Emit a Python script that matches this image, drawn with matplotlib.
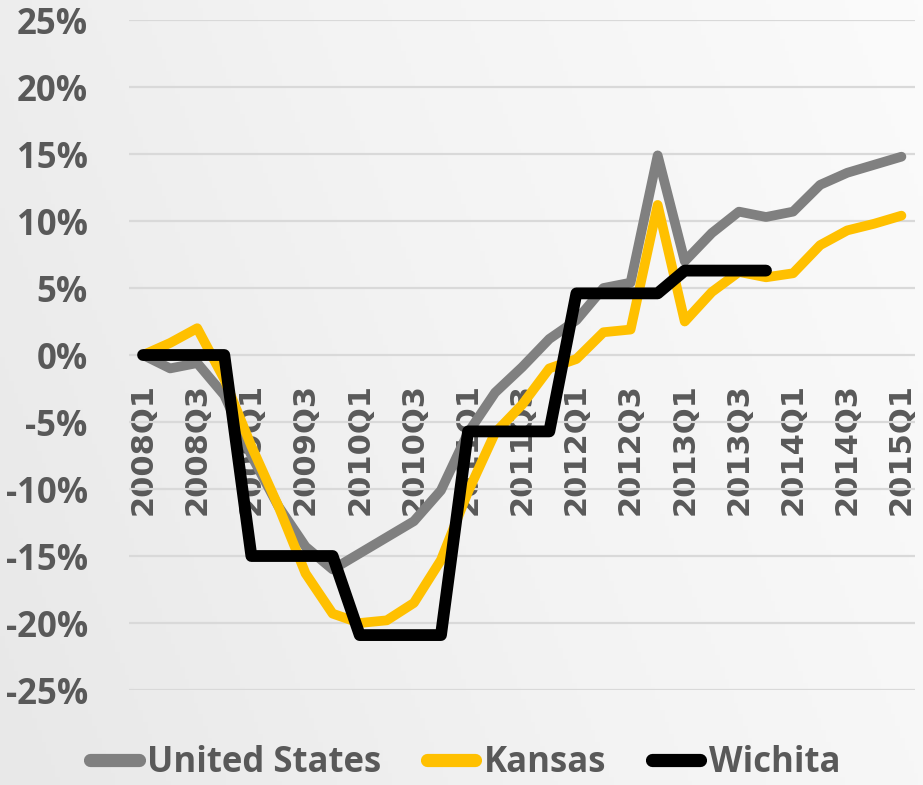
import numpy as np
import matplotlib.pyplot as plt
from matplotlib.colors import LinearSegmentedColormap

# quarters on the x axis
quarters = ['2008Q1', '2008Q2', '2008Q3', '2008Q4', '2009Q1', '2009Q2', '2009Q3', '2009Q4',
            '2010Q1', '2010Q2', '2010Q3', '2010Q4', '2011Q1', '2011Q2', '2011Q3', '2011Q4',
            '2012Q1', '2012Q2', '2012Q3', '2012Q4', '2013Q1', '2013Q2', '2013Q3', '2013Q4',
            '2014Q1', '2014Q2', '2014Q3', '2014Q4', '2015Q1']

# percent change
united_states = [0.0, -1.0, -0.6, -3.0, -7.5, -11.3, -14.3, -16.0, -14.8, -13.6, -12.4, -10.1,
                 -5.8, -2.8, -0.9, 1.2, 2.6, 5.0, 5.4, 14.9, 7.0, 9.1, 10.7, 10.3,
                 10.7, 12.7, 13.6, 14.2, 14.8]
kansas = [0.0, 0.9, 2.0, -1.8, -6.8, -11.3, -16.3, -19.3, -20.0, -19.8, -18.5, -15.3,
          -10.2, -5.8, -3.7, -1.0, -0.3, 1.7, 1.9, 11.2, 2.5, 4.7, 6.2, 5.8,
          6.1, 8.2, 9.3, 9.8, 10.4]
wichita = [0.0, 0.0, 0.0, 0.0, -15.0, -15.0, -15.0, -15.0, -20.9, -20.9, -20.9, -20.9,
           -5.7, -5.7, -5.7, -5.7, 4.6, 4.6, 4.6, 4.6, 6.3, 6.3, 6.3, 6.3,
           np.nan, np.nan, np.nan, np.nan, np.nan]

yticks = [-25, -20, -15, -10, -5, 0, 5, 10, 15, 20, 25]
ylabels = ['-25%', '-20%', '-15%', '-10%', '-5%', '0%', '5%', '10%', '15%', '20%', '25%']

txt = '#595959'
fig = plt.figure(figsize=(9.23, 7.85), dpi=100)

# light gray background gradient
bg = fig.add_axes([0, 0, 1, 1], zorder=-1)
gx, gy = np.meshgrid(np.linspace(0, 1, 200), np.linspace(0, 1, 200))
cmap = LinearSegmentedColormap.from_list('bg', ['#e8e8e8', '#f3f3f3', '#fbfbfb'])
bg.imshow(0.75 * gx + 0.25 * gy, cmap=cmap, aspect='auto', extent=[0, 1, 0, 1], origin='lower')
bg.axis('off')

ax = fig.add_axes([0.1403, 0.121, 0.851, 0.8535])
ax.set_facecolor('none')
for s in ax.spines.values():
    s.set_visible(False)
# x labels sit on the 0% line (set before ticks, this resets them)
ax.spines['bottom'].set_position(('data', 0))

x = np.arange(len(quarters))
ax.plot(x, united_states, color='#808080', lw=7, solid_capstyle='round', label='United States', zorder=3)
ax.plot(x, kansas, color='#FFC000', lw=7, solid_capstyle='round', label='Kansas', zorder=4)
ax.plot(x, wichita, color='#000000', lw=8.5, solid_capstyle='round', label='Wichita', zorder=5)

ax.set_xlim(-0.5, len(quarters) - 0.5)
ax.set_ylim(-25, 25)
ax.set_yticks(yticks)
ax.set_yticklabels(ylabels, fontfamily='Open Sans', fontweight='bold', fontsize=25)
ax.set_xticks(x[::2])
ax.set_xticklabels(quarters[::2], rotation=90, fontfamily='DejaVu Sans', fontweight='bold', fontsize=22)

ax.grid(axis='y', color='#d9d9d9', lw=1.6, zorder=0)
ax.set_axisbelow(True)

ax.tick_params(axis='y', length=0, pad=30, colors=txt)
ax.tick_params(axis='x', length=0, pad=20, colors=txt)

leg = fig.legend(loc='center', bbox_to_anchor=(0.504, 0.028), ncol=3, frameon=False,
                 handlelength=1.4, handletextpad=0.25, columnspacing=1.3,
                 prop={'family': 'Open Sans', 'weight': 'bold', 'size': 25})
for t in leg.get_texts():
    t.set_color(txt)
for h in leg.legend_handles:
    h.set_linewidth(9.5)
    h.set_solid_capstyle('round')

fig.savefig('out.png', dpi=100)
